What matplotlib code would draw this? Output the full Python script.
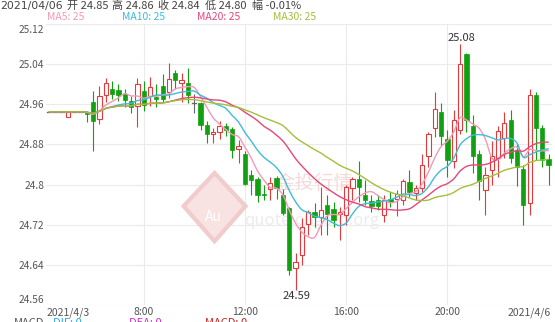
import numpy as np
import pandas as pd
import matplotlib.pyplot as plt
from matplotlib.patches import Rectangle, Polygon, PathPatch
from matplotlib.path import Path
from matplotlib.transforms import ScaledTranslation

plt.rcParams['font.family'] = ['Noto Sans CJK SC', 'DejaVu Sans']

# --- data (15 min candles) ---
opens = [24.945, 24.945, 24.945, 24.935, 24.945, 24.945, 24.942, 24.964, 24.930, 24.979,
         24.990, 24.988, 24.980, 24.966, 24.957, 24.987, 24.977, 24.975, 24.997, 24.984,
         25.022, 25.003, 25.002, 24.962, 24.962, 24.919, 24.900, 24.905, 24.917, 24.910,
         24.870, 24.861, 24.819, 24.811, 24.781, 24.791, 24.813, 24.779, 24.753, 24.633,
         24.660, 24.721, 24.746, 24.736, 24.759, 24.751, 24.742, 24.740, 24.793, 24.811,
         24.779, 24.768, 24.769, 24.740, 24.772, 24.771, 24.770, 24.806, 24.783, 24.793,
         24.856, 24.912, 24.945, 24.890, 24.846, 24.909, 25.061, 24.916, 24.860, 24.790,
         24.830, 24.853, 24.893, 24.929, 24.869, 24.831, 24.764, 24.978, 24.912, 24.850]
highs = [24.945, 24.945, 24.945, 24.945, 24.945, 24.945, 24.945, 24.987, 24.997, 25.013,
         25.007, 25.001, 24.990, 24.977, 25.013, 25.007, 25.015, 25.000, 25.020, 25.042,
         25.028, 25.022, 25.032, 24.980, 24.965, 24.926, 24.912, 24.926, 24.922, 24.915,
         24.889, 24.866, 24.829, 24.816, 24.799, 24.816, 24.817, 24.792, 24.756, 24.663,
         24.734, 24.750, 24.763, 24.796, 24.780, 24.765, 24.756, 24.800, 24.816, 24.846,
         24.810, 24.779, 24.779, 24.780, 24.785, 24.790, 24.812, 24.830, 24.800, 24.860,
         24.905, 24.985, 24.962, 24.909, 24.949, 25.080, 25.063, 24.939, 24.869, 24.836,
         24.886, 24.916, 24.945, 24.949, 24.880, 24.840, 24.991, 24.985, 24.919, 24.860]
lows = [24.945, 24.945, 24.945, 24.935, 24.945, 24.945, 24.925, 24.867, 24.920, 24.964,
        24.970, 24.967, 24.954, 24.942, 24.914, 24.947, 24.957, 24.955, 24.964, 24.973,
        24.990, 24.965, 24.962, 24.942, 24.909, 24.883, 24.882, 24.890, 24.896, 24.852,
        24.843, 24.799, 24.779, 24.766, 24.769, 24.770, 24.771, 24.739, 24.620, 24.590,
        24.640, 24.700, 24.716, 24.700, 24.700, 24.715, 24.690, 24.720, 24.770, 24.766,
        24.760, 24.745, 24.749, 24.725, 24.755, 24.737, 24.760, 24.775, 24.770, 24.785,
        24.835, 24.895, 24.876, 24.816, 24.833, 24.900, 24.905, 24.823, 24.770, 24.740,
        24.800, 24.816, 24.853, 24.843, 24.797, 24.720, 24.740, 24.849, 24.836, 24.800]
closes = [24.945, 24.945, 24.945, 24.945, 24.945, 24.945, 24.940, 24.927, 24.977, 25.003,
          24.980, 24.978, 24.968, 24.955, 25.001, 24.959, 24.994, 24.970, 24.971, 25.010,
          25.008, 25.008, 24.979, 24.962, 24.919, 24.900, 24.904, 24.917, 24.909, 24.869,
          24.877, 24.801, 24.809, 24.779, 24.779, 24.803, 24.793, 24.743, 24.630, 24.645,
          24.716, 24.746, 24.736, 24.749, 24.741, 24.730, 24.746, 24.795, 24.811, 24.796,
          24.769, 24.758, 24.757, 24.770, 24.766, 24.781, 24.807, 24.785, 24.793, 24.839,
          24.900, 24.950, 24.896, 24.849, 24.929, 25.041, 24.929, 24.856, 24.807, 24.820,
          24.856, 24.906, 24.922, 24.853, 24.836, 24.760, 24.978, 24.912, 24.849, 24.840]

x_tick_idx = [0, 15, 31, 47, 63, 79]
x_tick_labels = ['2021/4/3', '8:00', '12:00', '16:00', '20:00', '2021/4/6']
y_ticks = [24.56, 24.64, 24.72, 24.80, 24.88, 24.96, 25.04, 25.12]
y_tick_labels = ['24.56', '24.64', '24.72', '24.8', '24.88', '24.96', '25.04', '25.12']

ma_periods = [5, 10, 20, 30]
ma_names = ['MA5', 'MA10', 'MA20', 'MA30']
ma_colors = ['#f29ab8', '#3fbcd6', '#e5477a', '#a3bf3c']

header_date = '2021/04/06'
header_parts = ['开 24.85', '高 24.86', '收 24.84', '低 24.80', '幅 -0.01%']
macd_parts = ['MACD', 'DIF: 0', 'DEA: 0', 'MACD: 0']
macd_colors = ['#555555', '#28a8e0', '#d030d0', '#c82020']

UP = '#e5393c'
DOWN = '#10a010'
FLAT = '#666666'
GRID = '#ebebeb'
TEXT = '#555555'


def smooth_path(x, y):
    """Catmull-Rom style bezier path through every point (like a smoothed line)."""
    pts = np.column_stack([x, y])
    verts = [pts[0]]
    codes = [Path.MOVETO]
    n = len(pts)
    for i in range(n - 1):
        p0 = pts[max(i - 1, 0)]
        p1 = pts[i]
        p2 = pts[i + 1]
        p3 = pts[min(i + 2, n - 1)]
        verts += [p1 + (p2 - p0) / 6, p2 - (p3 - p1) / 6, p2]
        codes += [Path.CURVE4] * 3
    return Path(verts, codes)


W, H = 555, 322
fig = plt.figure(figsize=(W / 100, H / 100), dpi=100)
ax = fig.add_axes([45.6 / W, 17 / H, (551.8 - 45.6) / W, 281 / H])
ax.set_xlim(-0.5, len(closes) - 0.5)
ax.set_ylim(24.56, 25.12)
for s in ax.spines.values():
    s.set_visible(False)

# grid
for v in y_ticks:
    ax.axhline(v, color=GRID, lw=0.8, zorder=0)
for i in x_tick_idx[1:-1]:
    ax.axvline(i, color=GRID, lw=0.8, zorder=0)

# watermark
ax.add_patch(Polygon([(21.3, 24.757), (26.2, 24.823), (31.1, 24.757), (26.2, 24.687)],
                     closed=True, facecolor='#f8e2e2', edgecolor='#f1cccc', lw=3, zorder=1))
ax.text(26.0, 24.735, 'Au', color='white', fontsize=10, ha='center', va='center', zorder=1)
ax.text(42.0, 24.803, '金投行情', color='#f5dada', fontsize=14, ha='center', va='center', zorder=1)
ax.text(41.5, 24.728, 'quote.cngold.org', color='#ececec', fontsize=12, ha='center', va='center', zorder=1)

# candles
bw = 0.68
for i, (o, h, l, c) in enumerate(zip(opens, highs, lows, closes)):
    if c > o:
        col = UP
    elif c < o:
        col = DOWN
    else:
        col = FLAT
    ax.plot([i, i], [l, h], color=col, lw=0.8, zorder=2, solid_capstyle='butt')
    lo, hi = min(o, c), max(o, c)
    if hi - lo < 0.0015:
        ax.plot([i - bw / 2, i + bw / 2], [o, o], color=col, lw=0.9, zorder=2)
    elif c > o:
        ax.add_patch(Rectangle((i - bw / 2, lo), bw, hi - lo, facecolor='white',
                               edgecolor=col, lw=0.8, zorder=2))
    else:
        ax.add_patch(Rectangle((i - bw / 2, lo), bw, hi - lo, facecolor=col,
                               edgecolor=col, lw=0.5, zorder=2))

# moving averages
cs = pd.Series(closes)
xs = np.arange(len(closes), dtype=float)
for p, col in zip(ma_periods, ma_colors):
    ma = cs.rolling(p, min_periods=1).mean().to_numpy()
    ax.add_patch(PathPatch(smooth_path(xs, ma), fill=False, edgecolor=col, lw=1.0, zorder=3))

# max / min marks
imax = int(np.argmax(highs))
imin = int(np.argmin(lows))
ax.annotate(f'{highs[imax]:.2f}', (imax, highs[imax]), xytext=(1, 1), textcoords='offset points',
            ha='center', va='bottom', fontsize=8, color='#333333', zorder=4)
ax.annotate(f'{lows[imin]:.2f}', (imin, lows[imin]), xytext=(1, -1), textcoords='offset points',
            ha='center', va='top', fontsize=8, color='#333333', zorder=4)

# axes labels
ax.set_yticks(y_ticks, y_tick_labels)
ax.set_xticks(x_tick_idx, x_tick_labels)
ax.tick_params(axis='y', length=0, labelsize=7.3, labelcolor=TEXT, pad=1)
ax.tick_params(axis='x', length=0, labelsize=7.5, labelcolor=TEXT, pad=1.5)
ylabs = ax.get_yticklabels()
ylabs[0].set_va('bottom')
ylabs[-1].set_va('top')
ylabs[-1].set_transform(ylabs[-1].get_transform() + ScaledTranslation(0, -1 / 100, fig.dpi_scale_trans))
xlabs = ax.get_xticklabels()
xlabs[0].set_ha('left')
xlabs[0].set_transform(xlabs[0].get_transform() + ScaledTranslation(-2.5 / 100, 0, fig.dpi_scale_trans))
xlabs[-1].set_ha('right')
xlabs[-1].set_transform(xlabs[-1].get_transform() + ScaledTranslation(2 / 100, 0, fig.dpi_scale_trans))

# header lines
fig.text(0, 1 - 5.5 / H, header_date, fontsize=7.8, color='#444444', va='center', ha='left',
         family='DejaVu Sans')
for txt, px in zip(header_parts, [67, 112, 158, 205, 252]):
    fig.text(px / W, 1 - 5.5 / H, txt, fontsize=8, color='#444444', va='center', ha='left')
for name, col, px in zip(ma_names, ma_colors, [47, 122, 197, 273]):
    fig.text(px / W, 1 - 17 / H, f'{name}: 25', fontsize=7.5, color=col, va='center', ha='left')

# MACD header at the bottom, clipped by the image edge
for txt, col, px in zip(macd_parts, macd_colors, [14, 53, 129, 205]):
    fig.text(px / W, 1 - 318.5 / H, txt, fontsize=8, color=col, va='top', ha='left')

fig.savefig('out.png', dpi=100, facecolor='white')
